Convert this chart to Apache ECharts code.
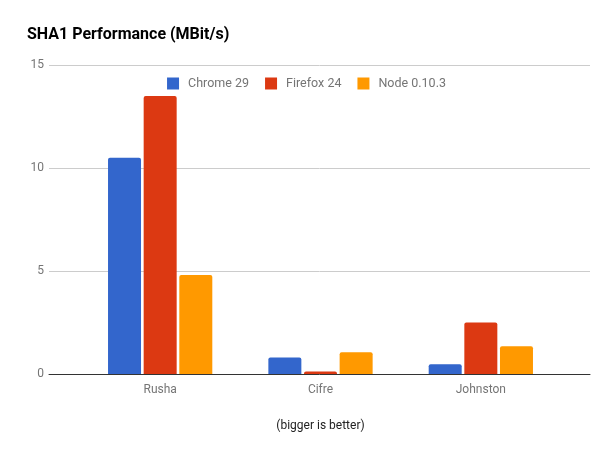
<!DOCTYPE html>
<html><head><meta charset="utf-8">
<script src="https://cdn.jsdelivr.net/npm/echarts@6/dist/echarts.min.js"></script>
<style>html,body{margin:0;padding:0;background:#fff}#c{width:613px;height:451px}</style>
</head><body><div id="c"></div>
<script>
const categories = ["Rusha", "Cifre", "Johnston"];
const seriesNames = ["Chrome 29", "Firefox 24", "Node 0.10.3"];
const chrome = [10.5, 0.8, 0.47];
const firefox = [13.5, 0.12, 2.5];
const node = [4.8, 1.05, 1.35];
const yTicks = [0, 5, 10, 15];
const colors = ["#3366cc", "#dc3912", "#ff9900"];

(function () {
const chart = echarts.init(document.getElementById('c'));
const font = 'Roboto, "Noto Sans", sans-serif';
const gTop = 65, gBottom = 451 - 374;
const values = [chrome, firefox, node];
chart.setOption({
  animation: false,
  color: colors,
  title: { text: "SHA1 Performance (MBit/s)", left: 22, top: 22,
    textStyle: { fontFamily: font, fontSize: 16, fontWeight: 'bold', color: '#000' } },
  legend: { top: 72, left: 'center', itemWidth: 12, itemHeight: 12, itemGap: 16,
    icon: 'rect', data: seriesNames,
    textStyle: { fontFamily: font, fontSize: 12.5, color: '#757575', padding: [0, 0, 0, 4] } },
  grid: [
    { left: 49, right: 23, top: gTop, bottom: gBottom },
    { left: 80, right: 52, top: gTop, bottom: gBottom }
  ],
  xAxis: [
    { gridIndex: 0, type: 'category', data: [''], axisLabel: { show: false }, axisTick: { show: false },
      axisLine: { lineStyle: { color: '#333', width: 1 } } },
    { gridIndex: 1, type: 'category', data: categories, axisTick: { show: false },
      axisLine: { show: false },
      axisLabel: { fontFamily: font, fontSize: 12, color: '#757575', margin: 10 },
      name: "(bigger is better)", nameLocation: 'middle', nameGap: 46,
      nameTextStyle: { fontFamily: font, fontSize: 12, color: '#222' } }
  ],
  yAxis: [
    { gridIndex: 0, type: 'value', min: yTicks[0], max: yTicks[yTicks.length - 1], interval: 5,
      axisLabel: { fontFamily: font, fontSize: 12, color: '#757575', margin: 5 },
      axisLine: { show: false }, axisTick: { show: false },
      splitLine: { lineStyle: { color: '#cccccc' } } },
    { gridIndex: 1, type: 'value', min: yTicks[0], max: yTicks[yTicks.length - 1], interval: 5,
      show: false }
  ],
  series: seriesNames.map((n, i) => ({
    name: n, type: 'bar', xAxisIndex: 1, yAxisIndex: 1, data: values[i],
    barWidth: 33, barGap: '8%',
    itemStyle: { color: colors[i], borderRadius: [2, 2, 0, 0] }
  }))
});
})();
</script></body></html>
